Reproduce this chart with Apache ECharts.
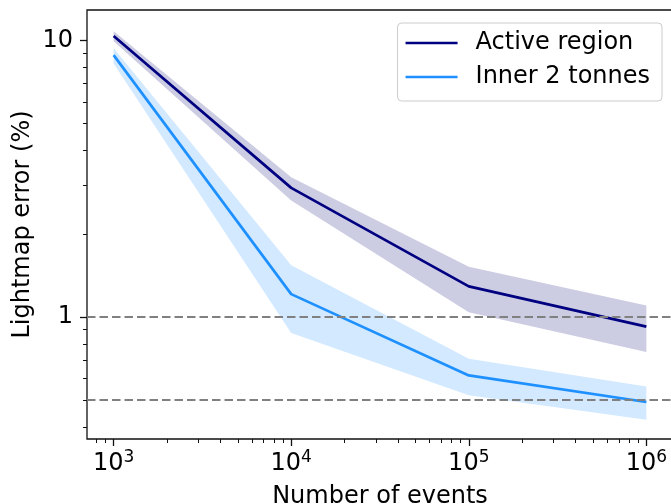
<!DOCTYPE html>
<html>
<head>
<meta charset="utf-8">
<script src="https://cdn.jsdelivr.net/npm/echarts@6/dist/echarts.min.js"></script>
<style>
  html, body { margin: 0; padding: 0; background: #fff; }
  #main { width: 671px; height: 504px; }
</style>
</head>
<body>
<div id="main"></div>
<script>
// values (log-log plot)
var events = [1e3, 1e4, 1e5, 1e6];
var activeErr = [10.37, 2.93, 1.29, 0.923];
var activeLow = [9.94, 2.64, 1.04, 0.747];
var activeHigh = [10.8, 3.2, 1.52, 1.10];
var innerErr = [8.85, 1.21, 0.615, 0.493];
var innerLow = [8.26, 0.875, 0.521, 0.425];
var innerHigh = [9.36, 1.54, 0.707, 0.561];
var thresholds = [1, 0.5];

var xMajor = [1e3, 1e4, 1e5, 1e6];
var yMajor = [1, 10];
var mantissas = [2, 3, 4, 5, 6, 7, 8, 9];

var lg = Math.log10;
var xMin = 2.85, xMax = 6.15;
var yMin = -0.441, yMax = 1.11;

function minorTicks(decades, lo, hi) {
  var out = [];
  decades.forEach(function (d) {
    mantissas.forEach(function (m) {
      var v = lg(m * d);
      if (v > lo && v < hi) out.push(v);
    });
  });
  return out;
}

function pairs(vals) {
  return events.map(function (x, i) { return [lg(x), lg(vals[i])]; });
}

// shaded band between low and high, drawn as one polygon
function band(name, low, high, fill) {
  var rows = events.map(function (x, i) { return [lg(x), lg(low[i]), lg(high[i])]; });
  return {
    name: name, type: 'custom', silent: true,
    data: rows,
    encode: { x: 0, y: [1, 2] },
    renderItem: function (params, api) {
      if (params.dataIndex !== 0) return null;
      var pts = [];
      rows.forEach(function (r) { pts.push(api.coord([r[0], r[2]])); });
      rows.slice().reverse().forEach(function (r) { pts.push(api.coord([r[0], r[1]])); });
      return { type: 'polygon', shape: { points: pts }, style: { fill: fill } };
    }
  };
}

var font = 'DejaVu Sans';
var chart = echarts.init(document.getElementById('main'), null, { renderer: 'canvas' });

var baseAxis = {
  type: 'value',
  splitLine: { show: false },
  axisLine: { show: false, onZero: false }
};

var option = {
  backgroundColor: '#fff',
  animation: false,
  textStyle: { fontFamily: font },
  grid: {
    left: 87, top: 10, width: 586, height: 429,
    outerBoundsMode: 'none', containLabel: false,
    show: true, borderColor: '#111', borderWidth: 1.3, backgroundColor: 'transparent'
  },
  legend: {
    data: ['Active region', 'Inner 2 tonnes'],
    orient: 'vertical',
    right: 9, top: 23,
    icon: 'rect',
    itemWidth: 52, itemHeight: 2.7, itemGap: 10,
    padding: [8, 12, 12, 8],
    backgroundColor: 'rgba(255,255,255,0.8)',
    borderColor: '#cccccc', borderWidth: 1, borderRadius: 4,
    selectedMode: false,
    textStyle: { fontFamily: font, fontSize: 24, color: '#000', padding: [0, 0, 0, 13] }
  },
  xAxis: [
    Object.assign({}, baseAxis, {
      min: xMin, max: xMax,
      name: 'Number of events',
      nameLocation: 'middle', nameGap: 46,
      nameTextStyle: { fontFamily: font, fontSize: 24, color: '#000' },
      axisTick: { length: 7, lineStyle: { color: '#111', width: 1.3 }, customValues: xMajor.map(lg) },
      axisLabel: {
        customValues: xMajor.map(lg),
        margin: 10,
        formatter: function (v) { return '{b|10}{s|' + Math.round(v) + '}'; },
        rich: {
          b: { fontFamily: font, fontSize: 24, color: '#000' },
          s: { fontFamily: font, fontSize: 17, color: '#000', padding: [0, 0, 12, 0] }
        }
      }
    }),
    Object.assign({}, baseAxis, {
      min: xMin, max: xMax, position: 'bottom',
      axisTick: { length: 4, lineStyle: { color: '#111', width: 1 }, customValues: minorTicks([100, 1e3, 1e4, 1e5, 1e6], xMin, xMax) },
      axisLabel: { show: false }
    })
  ],
  yAxis: [
    Object.assign({}, baseAxis, {
      min: yMin, max: yMax,
      name: 'Lightmap error (%)',
      nameLocation: 'middle', nameGap: 52, nameMoveOverlap: false,
      nameTextStyle: { fontFamily: font, fontSize: 24, color: '#000' },
      axisTick: { length: 7, lineStyle: { color: '#111', width: 1.3 }, customValues: yMajor.map(lg) },
      axisLabel: {
        customValues: yMajor.map(lg),
        margin: 14,
        fontFamily: font, fontSize: 24, color: '#000',
        formatter: function (v) { return String(Math.round(Math.pow(10, v))); }
      }
    }),
    Object.assign({}, baseAxis, {
      min: yMin, max: yMax, position: 'left',
      axisTick: { length: 4, lineStyle: { color: '#111', width: 1 }, customValues: minorTicks([0.1, 1, 10], yMin, yMax) },
      axisLabel: { show: false }
    })
  ],
  series: [
    band('activeBand', activeLow, activeHigh, '#ccccE3'),
    band('innerBand', innerLow, innerHigh, '#d2e9ff'),
    {
      name: 'thresholds', type: 'line', data: [], silent: true,
      markLine: {
        silent: true, symbol: 'none', label: { show: false },
        lineStyle: { color: '#808080', width: 2.2, type: [8.5, 4] },
        data: thresholds.map(function (t) { return { yAxis: lg(t) }; })
      }
    },
    {
      name: 'Active region', type: 'line', symbol: 'none',
      itemStyle: { color: '#000080' },
      lineStyle: { color: '#000080', width: 2.7 },
      data: pairs(activeErr)
    },
    {
      name: 'Inner 2 tonnes', type: 'line', symbol: 'none',
      itemStyle: { color: '#1e90ff' },
      lineStyle: { color: '#1e90ff', width: 2.7 },
      data: pairs(innerErr)
    }
  ]
};

chart.setOption(option);
</script>
</body>
</html>
